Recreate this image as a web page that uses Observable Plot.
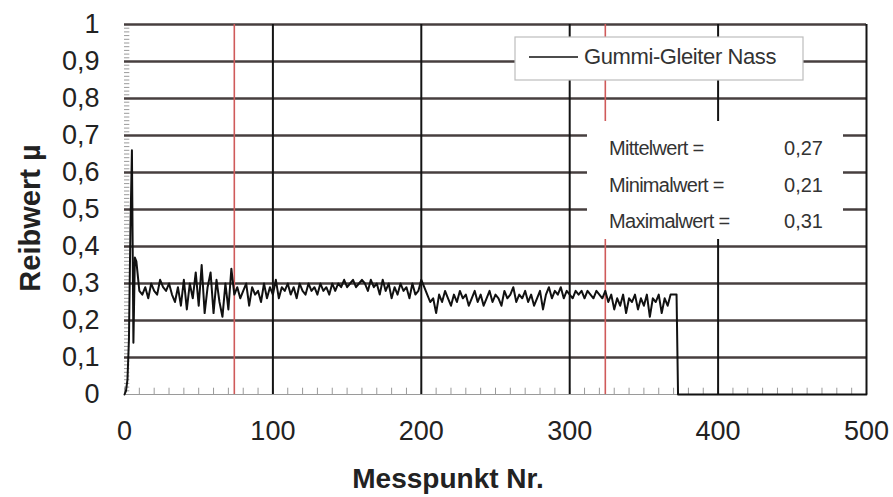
<!DOCTYPE html>
<html>
<head>
<meta charset="utf-8">
<script src="https://cdn.jsdelivr.net/npm/d3@7"></script>
<script src="https://cdn.jsdelivr.net/npm/@observablehq/plot@0.6"></script>
<style>
  html, body { margin: 0; padding: 0; background: #fff; }
  #chart svg { display: block; }
</style>
</head>
<body>
<div id="chart"></div>
<script>
// ---- data ----
const xTicks = [0, 100, 200, 300, 400, 500];
const yTicks = [0, 0.1, 0.2, 0.3, 0.4, 0.5, 0.6, 0.7, 0.8, 0.9, 1];
const gridX = [100, 200, 300, 400, 500];
const gridY = [0.1, 0.2, 0.3, 0.4, 0.5, 0.6, 0.7, 0.8, 0.9, 1];
const markers = [74, 324];

const seriesName = "Gummi-Gleiter Nass";
const statLabels = ["Mittelwert =", "Minimalwert =", "Maximalwert ="];
const statValues = ["0,27", "0,21", "0,31"];

// start-up of the measurement (Messpunkt 0..8)
const headX = [0, 1, 2, 3, 4, 5, 6, 7, 8];
const headY = [0, 0.01, 0.04, 0.15, 0.45, 0.66, 0.14, 0.37, 0.36];
// steady part, every 2nd Messpunkt from 10 to 372
const noiseStart = 10, noiseStep = 2;
const noiseY = [
  0.28,0.27,0.29,0.26,0.30,0.28,0.27,0.31,0.29,0.28,
  0.30,0.27,0.25,0.29,0.24,0.31,0.23,0.30,0.26,0.33,
  0.24,0.35,0.22,0.29,0.33,0.22,0.31,0.25,0.21,0.30,
  0.23,0.34,0.27,0.29,0.26,0.28,0.30,0.24,0.29,0.27,
  0.28,0.25,0.30,0.26,0.29,0.27,0.31,0.26,0.29,0.28,
  0.30,0.27,0.29,0.26,0.30,0.28,0.27,0.30,0.28,0.29,
  0.27,0.30,0.28,0.29,0.27,0.30,0.28,0.30,0.29,0.31,
  0.29,0.30,0.31,0.29,0.30,0.31,0.30,0.28,0.31,0.29,
  0.30,0.27,0.31,0.28,0.30,0.26,0.29,0.27,0.30,0.28,
  0.29,0.26,0.30,0.27,0.28,0.31,0.29,0.27,0.25,0.26,
  0.22,0.27,0.25,0.28,0.26,0.24,0.27,0.25,0.28,0.26,
  0.27,0.24,0.26,0.28,0.25,0.27,0.24,0.26,0.28,0.25,
  0.27,0.26,0.24,0.28,0.26,0.27,0.29,0.25,0.27,0.26,
  0.28,0.25,0.27,0.24,0.26,0.28,0.23,0.27,0.29,0.26,
  0.28,0.27,0.29,0.26,0.28,0.27,0.26,0.28,0.27,0.28,
  0.26,0.28,0.27,0.26,0.28,0.27,0.26,0.28,0.25,0.27,
  0.23,0.26,0.24,0.27,0.22,0.26,0.25,0.27,0.23,0.26,
  0.24,0.27,0.21,0.26,0.25,0.27,0.22,0.26,0.24,0.27,
  0.27,0.27
];
// end of measurement: drop to zero
const tailX = [373, 500];
const tailY = [0, 0];

const data = [
  ...headX.map((x, i) => ({x, y: headY[i]})),
  ...noiseY.map((y, i) => ({x: noiseStart + i * noiseStep, y})),
  ...tailX.map((x, i) => ({x, y: tailY[i]}))
];

const minorY = d3.range(0, 101).map(i => i / 100);
const minorX = d3.range(0, 51).map(i => i * 10);
const fmt = d => String(+d.toFixed(2)).replace(".", ",");

const W = 893, H = 497;
const mL = 124, mR = 27, mT = 24, mB = 103;

const chart = Plot.plot({
  width: W, height: H,
  marginLeft: mL, marginRight: mR, marginTop: mT, marginBottom: mB,
  style: {fontFamily: "'Liberation Sans', Arial, sans-serif", fontSize: "27px", color: "#222", background: "#fff", overflow: "visible"},
  x: {domain: [0, 500], ticks: xTicks, tickSize: 0, tickPadding: 26, label: null},
  y: {domain: [0, 1], ticks: yTicks, tickSize: 0, tickPadding: 25, tickFormat: fmt, label: null},
  marks: [
    Plot.ruleY([0], {stroke: "#9a9a9a", strokeWidth: 1.2}),
    Plot.ruleY(minorY, {x1: 0, x2: 3.6, stroke: "#9a9a9a", strokeWidth: 1}),
    Plot.ruleX(minorX, {y1: 0, y2: 0.017, stroke: "#9a9a9a", strokeWidth: 1}),
    Plot.ruleY(gridY, {stroke: "#473f3f", strokeWidth: 2.6}),
    Plot.ruleX(gridX, {stroke: "#141414", strokeWidth: 2}),
    Plot.ruleX(markers, {stroke: "#cf5a5a", strokeWidth: 1.6}),
    Plot.line(data, {x: "x", y: "y", stroke: "#111", strokeWidth: 2})
  ]
});

document.getElementById("chart").appendChild(chart);

// ---- annotations (legend, statistics box, axis titles) ----
const svg = d3.select(chart);
const font = "'Liberation Sans', Arial, sans-serif";

// statistics box (covers grid)
const sb = svg.append("g").attr("text-anchor", "start");
sb.append("rect").attr("x", 587).attr("y", 121).attr("width", 256).attr("height", 118).attr("fill", "#fff");
statLabels.forEach((t, i) => {
  const yy = 155 + i * 36.5;
  sb.append("text").attr("x", 609).attr("y", yy).attr("text-anchor", "start").attr("font-family", font)
    .attr("font-size", 20).attr("letter-spacing", -0.7).attr("fill", "#333").text(t);
  sb.append("text").attr("x", 823).attr("y", yy).attr("text-anchor", "end").attr("font-family", font)
    .attr("font-size", 20).attr("fill", "#333").text(statValues[i]);
});

// legend
const lg = svg.append("g");
lg.append("rect").attr("x", 515).attr("y", 37).attr("width", 288).attr("height", 43)
  .attr("fill", "#fff").attr("stroke", "#bdbdbd").attr("stroke-width", 1.2);
lg.append("line").attr("x1", 529).attr("x2", 578).attr("y1", 57).attr("y2", 57)
  .attr("stroke", "#111").attr("stroke-width", 1.7);
lg.append("text").attr("x", 584).attr("y", 64).attr("text-anchor", "start").attr("font-family", font)
  .attr("font-size", 22).attr("letter-spacing", -0.4).attr("fill", "#333").text(seriesName);

// axis titles
svg.append("text").attr("x", 448).attr("y", 488).attr("text-anchor", "middle")
  .attr("font-family", font).attr("font-size", 28).attr("font-weight", "bold").attr("fill", "#222")
  .text("Messpunkt Nr.");
svg.append("text").attr("transform", "translate(40,218) rotate(-90)").attr("text-anchor", "middle")
  .attr("font-family", font).attr("font-size", 29).attr("font-weight", "bold").attr("fill", "#222")
  .text("Reibwert µ");
</script>
</body>
</html>
